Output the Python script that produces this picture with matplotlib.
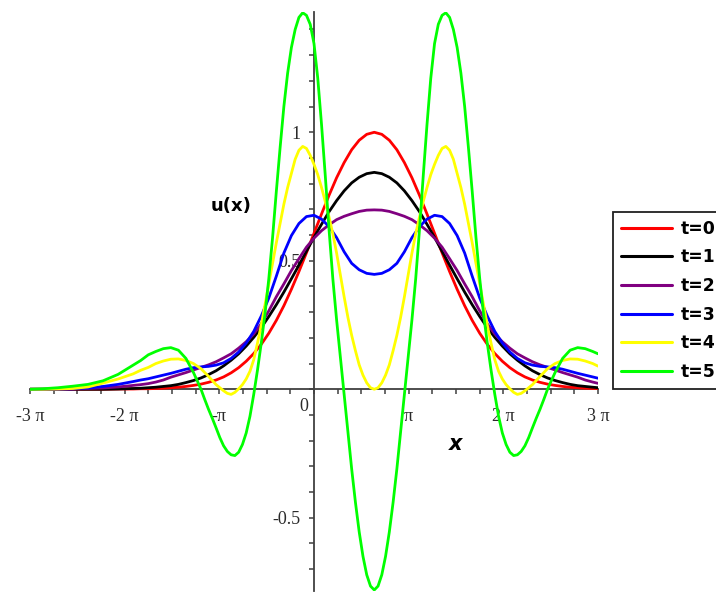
import numpy as np
import matplotlib
matplotlib.use("Agg")
import matplotlib.pyplot as plt
from matplotlib.ticker import FixedLocator, FixedFormatter

# sample positions along x for the smoother profiles (t = 0 .. 3)
x = [-9.425, -9.0, -8.5, -8.0, -7.5, -7.0, -6.5, -6.0, -5.75, -5.5,
     -5.25, -5.0, -4.75, -4.5, -4.25, -4.0, -3.75, -3.5, -3.25, -3.0,
     -2.75, -2.5, -2.25, -2.0, -1.75, -1.5, -1.25, -1.0, -0.75, -0.5,
     -0.25, 0.0, 0.25, 0.5, 0.75, 1.0, 1.25, 1.5, 1.75, 2.0,
     2.25, 2.5, 2.75, 3.0, 3.25, 3.5, 3.75, 4.0, 4.25, 4.5,
     4.75, 5.0, 5.25, 5.5, 5.75, 6.0, 6.25, 6.5, 6.75, 7.0,
     7.25, 7.5, 7.75, 8.0, 8.25, 8.5, 8.75, 9.0, 9.25, 9.425]

# denser sample positions for the oscillating profiles (t = 4, 5)
x_fine = [-9.425, -9.0, -8.5, -8.0, -7.5, -7.0, -6.5, -6.0, -5.75, -5.5,
          -5.25, -5.0, -4.75, -4.5, -4.25,
          -4.0, -3.875, -3.75, -3.625, -3.5, -3.375, -3.25, -3.125, -3.0,
          -2.875, -2.75, -2.625, -2.5, -2.375, -2.25, -2.125, -2.0,
          -1.875, -1.75, -1.625, -1.5, -1.375, -1.25, -1.125, -1.0,
          -0.875, -0.75, -0.625, -0.5, -0.375, -0.25, -0.125, 0.0,
          0.125, 0.25, 0.375, 0.5, 0.625, 0.75, 0.875, 1.0,
          1.125, 1.25, 1.375, 1.5, 1.625, 1.75, 1.875, 2.0,
          2.125, 2.25, 2.375, 2.5, 2.625, 2.75, 2.875, 3.0,
          3.125, 3.25, 3.375, 3.5, 3.625, 3.75, 3.875, 4.0,
          4.125, 4.25, 4.375, 4.5, 4.625, 4.75, 4.875, 5.0,
          5.125, 5.25, 5.375, 5.5, 5.625, 5.75, 5.875, 6.0,
          6.125, 6.25, 6.375, 6.5, 6.625, 6.75, 6.875, 7.0,
          7.125, 7.25, 7.375, 7.5, 7.625, 7.75, 7.875, 8.0,
          8.25, 8.5, 8.75, 9.0, 9.25, 9.425]

u_t0 = [0, 0, 0, 0, 0, 0, 0.001, 0.001, 0.002, 0.002,
        0.003, 0.004, 0.006, 0.008, 0.011, 0.015, 0.020, 0.027, 0.036, 0.048,
        0.064, 0.084, 0.109, 0.139, 0.175, 0.218, 0.268, 0.325, 0.389, 0.458,
        0.531, 0.607, 0.682, 0.755, 0.823, 0.882, 0.932, 0.969, 0.992, 1.000,
        0.992, 0.969, 0.932, 0.882, 0.823, 0.755, 0.682, 0.607, 0.531, 0.458,
        0.389, 0.325, 0.268, 0.218, 0.175, 0.139, 0.109, 0.084, 0.064, 0.048,
        0.036, 0.027, 0.020, 0.015, 0.011, 0.008, 0.006, 0.004, 0.003, 0.003]

u_t1 = [0, 0, 0, 0, 0, 0, 0.001, 0.003, 0.004, 0.006,
        0.008, 0.011, 0.014, 0.019, 0.026, 0.034, 0.044, 0.057, 0.072, 0.091,
        0.113, 0.138, 0.168, 0.202, 0.240, 0.283, 0.329, 0.378, 0.430, 0.483,
        0.537, 0.591, 0.642, 0.691, 0.734, 0.772, 0.803, 0.825, 0.839, 0.844,
        0.839, 0.825, 0.803, 0.772, 0.734, 0.691, 0.642, 0.591, 0.537, 0.483,
        0.430, 0.378, 0.329, 0.283, 0.240, 0.202, 0.168, 0.138, 0.113, 0.091,
        0.072, 0.057, 0.044, 0.034, 0.026, 0.019, 0.014, 0.011, 0.008, 0.006]

u_t2 = [0, 0, 0, 0.001, 0.003, 0.005, 0.009, 0.015, 0.018, 0.022,
        0.028, 0.036, 0.047, 0.056, 0.065, 0.075, 0.085, 0.095, 0.107, 0.122,
        0.138, 0.160, 0.185, 0.215, 0.255, 0.305, 0.360, 0.410, 0.462, 0.508,
        0.553, 0.588, 0.617, 0.640, 0.660, 0.673, 0.683, 0.692, 0.697, 0.698,
        0.697, 0.692, 0.683, 0.673, 0.660, 0.640, 0.617, 0.588, 0.553, 0.508,
        0.462, 0.410, 0.360, 0.305, 0.255, 0.215, 0.185, 0.160, 0.138, 0.122,
        0.107, 0.095, 0.085, 0.075, 0.065, 0.056, 0.047, 0.036, 0.028, 0.023]

u_t3 = [0, 0, 0.001, 0.002, 0.005, 0.011, 0.019, 0.030, 0.036, 0.041,
        0.048, 0.055, 0.062, 0.070, 0.078, 0.084, 0.087, 0.089, 0.094, 0.103,
        0.120, 0.145, 0.180, 0.225, 0.285, 0.355, 0.440, 0.530, 0.598, 0.645,
        0.672, 0.677, 0.662, 0.633, 0.590, 0.535, 0.490, 0.465, 0.451, 0.447,
        0.451, 0.465, 0.490, 0.535, 0.590, 0.633, 0.662, 0.677, 0.672, 0.645,
        0.598, 0.530, 0.440, 0.355, 0.285, 0.225, 0.180, 0.145, 0.120, 0.103,
        0.094, 0.089, 0.087, 0.084, 0.078, 0.070, 0.062, 0.055, 0.048, 0.043]

u_t4 = [0, 0, 0.001, 0.003, 0.009, 0.024, 0.040, 0.060, 0.074, 0.085,
        0.100, 0.110, 0.117, 0.118, 0.112,
        0.100, 0.090, 0.080, 0.065, 0.050, 0.034, 0.018, 0.006, -0.006,
        -0.016, -0.020, -0.012, 0.002, 0.018, 0.040, 0.070, 0.115,
        0.180, 0.250, 0.330, 0.410, 0.490, 0.570, 0.645, 0.720,
        0.785, 0.840, 0.895, 0.930, 0.945, 0.937, 0.910, 0.875,
        0.835, 0.785, 0.730, 0.670, 0.605, 0.530, 0.445, 0.360,
        0.280, 0.210, 0.150, 0.095, 0.055, 0.025, 0.006, 0.000,
        0.006, 0.025, 0.055, 0.095, 0.150, 0.210, 0.280, 0.360,
        0.445, 0.530, 0.605, 0.670, 0.730, 0.785, 0.835, 0.875,
        0.910, 0.937, 0.945, 0.930, 0.895, 0.840, 0.785, 0.720,
        0.645, 0.570, 0.490, 0.410, 0.330, 0.250, 0.180, 0.115,
        0.070, 0.040, 0.018, 0.002, -0.012, -0.020, -0.016, -0.006,
        0.006, 0.018, 0.034, 0.050, 0.065, 0.080, 0.090, 0.100,
        0.112, 0.118, 0.117, 0.110, 0.100, 0.090]

u_t5 = [0, 0.002, 0.006, 0.012, 0.019, 0.033, 0.058, 0.094, 0.112, 0.134,
        0.147, 0.158, 0.162, 0.152, 0.120,
        0.065, 0.033, 0.000, -0.040, -0.078, -0.113, -0.150, -0.188, -0.220,
        -0.242, -0.255, -0.258, -0.245, -0.215, -0.170, -0.105, -0.020,
        0.075, 0.180, 0.295, 0.430, 0.590, 0.770, 0.940, 1.100,
        1.230, 1.330, 1.400, 1.447, 1.465, 1.455, 1.420, 1.345,
        1.210, 1.030, 0.830, 0.620, 0.430, 0.270, 0.125, -0.020,
        -0.165, -0.310, -0.440, -0.555, -0.650, -0.722, -0.766, -0.781,
        -0.766, -0.722, -0.650, -0.555, -0.440, -0.310, -0.165, -0.020,
        0.125, 0.270, 0.430, 0.620, 0.830, 1.030, 1.210, 1.345,
        1.420, 1.455, 1.465, 1.447, 1.400, 1.330, 1.230, 1.100,
        0.940, 0.770, 0.590, 0.430, 0.295, 0.180, 0.075, -0.020,
        -0.105, -0.170, -0.215, -0.245, -0.258, -0.255, -0.242, -0.220,
        -0.188, -0.150, -0.113, -0.078, -0.040, 0.000, 0.033, 0.065,
        0.120, 0.152, 0.162, 0.158, 0.147, 0.138]

series = [(x, u_t0), (x, u_t1), (x, u_t2), (x, u_t3),
          (x_fine, u_t4), (x_fine, u_t5)]
labels = ["t=0", "t=1", "t=2", "t=3", "t=4", "t=5"]
colors = ["#ff0000", "#000000", "#800080", "#0000ff", "#ffff00", "#00ff00"]

x_tick_vals = [-3 * np.pi, -2 * np.pi, -np.pi, np.pi, 2 * np.pi, 3 * np.pi]
x_tick_text = ["-3 \u03c0", "-2 \u03c0", "-\u03c0", "\u03c0", "2 \u03c0", "3 \u03c0"]
y_tick_vals = [-0.5, 0.5, 1.0]
y_tick_text = ["-0.5", "0.5", "1"]

W, H = 716, 592
fig = plt.figure(figsize=(W / 100, H / 100), dpi=100)
fig.patch.set_facecolor("white")
ax = fig.add_axes([30 / W, 1 / H, 568 / W, 579 / H])
ax.patch.set_alpha(0)

for (xs, vals), col, lab in zip(series, colors, labels):
    ax.plot(xs, vals, color=col, lw=2.0, label=lab,
            solid_joinstyle="round", solid_capstyle="round", zorder=3)

ax.set_xlim(-3 * np.pi, 3 * np.pi)
ax.set_ylim(-0.785, 1.468)

axis_col = "#404040"
for side in ("top", "right"):
    ax.spines[side].set_visible(False)
for side in ("left", "bottom"):
    ax.spines[side].set_position(("data", 0))
    ax.spines[side].set_color(axis_col)
    ax.spines[side].set_linewidth(1.3)
    ax.spines[side].set_zorder(2)

ax.xaxis.set_major_locator(FixedLocator(x_tick_vals))
ax.xaxis.set_major_formatter(FixedFormatter(x_tick_text))
ax.xaxis.set_minor_locator(FixedLocator([k * np.pi / 4 for k in range(-12, 13)]))
ax.yaxis.set_major_locator(FixedLocator(y_tick_vals))
ax.yaxis.set_major_formatter(FixedFormatter(y_tick_text))
ax.yaxis.set_minor_locator(FixedLocator([k / 10 for k in range(-7, 15)]))

ax.tick_params(axis="both", which="both", direction="out", length=3.8,
               width=1.1, color=axis_col, labelcolor="#2a2a2a")
ax.tick_params(axis="x", which="major", pad=9.5)
ax.tick_params(axis="y", which="major", pad=6)
for lbl in ax.get_xticklabels() + ax.get_yticklabels():
    lbl.set_fontfamily("Liberation Serif")
    lbl.set_fontsize(13)

ax.text(-0.34, -0.069, "0", ha="center", va="center", color="#2a2a2a",
        fontfamily="Liberation Serif", fontsize=13, zorder=1)

fig.text(231 / W, 1 - 206 / H, "u(x)", ha="center", va="center",
         fontfamily="DejaVu Sans", fontweight="bold", fontsize=13)
fig.text(456 / W, 1 - 444 / H, "x", ha="center", va="center",
         fontfamily="DejaVu Sans", fontweight="bold", fontstyle="italic",
         fontsize=15)

leg = fig.legend(loc="upper left", bbox_to_anchor=(613 / W, 1 - 212 / H),
                 bbox_transform=fig.transFigure, frameon=True, fancybox=False,
                 framealpha=1, edgecolor="#202020", borderpad=0.45,
                 labelspacing=0.62, handlelength=3.0, handletextpad=0.5,
                 borderaxespad=0,
                 prop=dict(family="DejaVu Sans", weight="bold", size=12.4))
leg.get_frame().set_linewidth(1.3)
for line in leg.get_lines():
    line.set_linewidth(2.2)

fig.savefig("out.png", dpi=100)
